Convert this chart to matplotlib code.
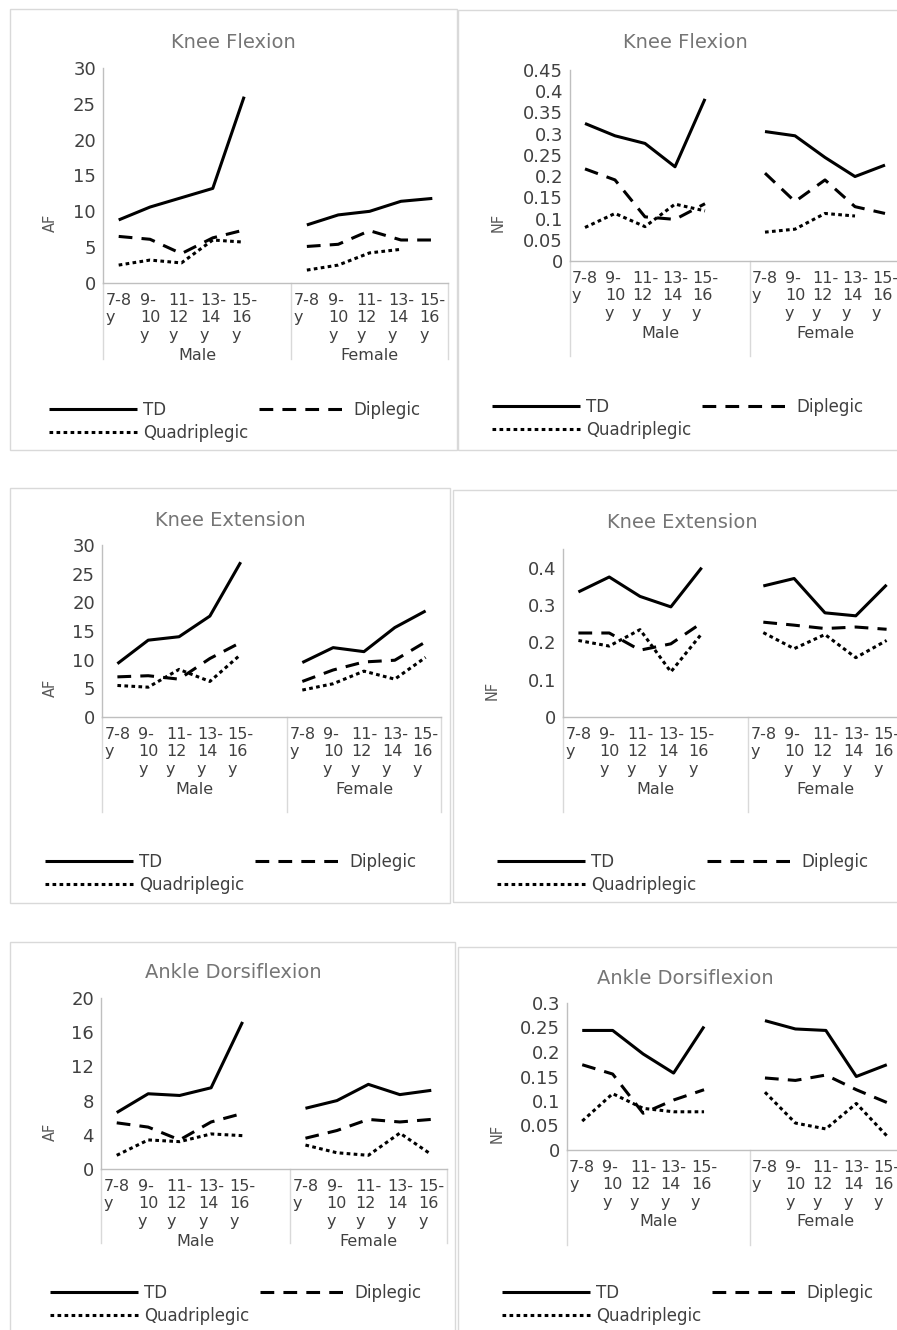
import numpy as np
import matplotlib.pyplot as plt
from matplotlib.patches import Rectangle

nan = np.nan

# categories
groups = ['Male', 'Female']
ages = ['7-8\ny', '9-\n10\ny', '11-\n12\ny', '13-\n14\ny', '15-\n16\ny']
series = ['TD', 'Diplegic', 'Quadriplegic']

# values: 5 male then 5 female
kf_af_td = [8.8, 10.6, 11.9, 13.2, 26.0, 8.1, 9.5, 10.0, 11.4, 11.8]
kf_af_dip = [6.5, 6.1, 4.1, 6.3, 7.4, 5.1, 5.4, 7.3, 6.0, 6.0]
kf_af_quad = [2.5, 3.2, 2.8, 6.0, 5.7, 1.8, 2.5, 4.2, 4.7, nan]

kf_nf_td = [0.324, 0.295, 0.277, 0.222, 0.382, 0.305, 0.295, 0.244, 0.199, 0.226]
kf_nf_dip = [0.217, 0.191, 0.104, 0.098, 0.135, 0.207, 0.140, 0.191, 0.128, 0.112]
kf_nf_quad = [0.079, 0.112, 0.081, 0.134, 0.118, 0.068, 0.075, 0.112, 0.106, nan]

ke_af_td = [9.3, 13.4, 14.0, 17.6, 27.0, 9.5, 12.1, 11.4, 15.6, 18.5]
ke_af_dip = [7.0, 7.2, 6.6, 10.2, 13.0, 6.2, 8.2, 9.6, 9.9, 13.1]
ke_af_quad = [5.5, 5.2, 8.3, 6.2, 10.9, 4.7, 5.8, 8.0, 6.6, 10.4]

ke_nf_td = [0.335, 0.375, 0.323, 0.295, 0.400, 0.351, 0.371, 0.279, 0.271, 0.354]
ke_nf_dip = [0.225, 0.225, 0.179, 0.196, 0.252, 0.254, 0.246, 0.237, 0.241, 0.235]
ke_nf_quad = [0.205, 0.190, 0.234, 0.121, 0.223, 0.226, 0.183, 0.221, 0.159, 0.205]

ad_af_td = [6.6, 8.8, 8.6, 9.5, 17.2, 7.1, 8.0, 9.9, 8.7, 9.2]
ad_af_dip = [5.4, 4.9, 3.4, 5.5, 6.5, 3.6, 4.5, 5.8, 5.5, 5.8]
ad_af_quad = [1.6, 3.4, 3.2, 4.1, 3.9, 2.8, 1.9, 1.6, 4.2, 1.7]

ad_nf_td = [0.244, 0.244, 0.196, 0.157, 0.252, 0.264, 0.247, 0.244, 0.150, 0.174]
ad_nf_dip = [0.174, 0.155, 0.075, 0.102, 0.123, 0.147, 0.142, 0.153, 0.123, 0.097]
ad_nf_quad = [0.059, 0.115, 0.085, 0.078, 0.078, 0.118, 0.055, 0.043, 0.095, 0.029]

W, H = 897, 1330
fig = plt.figure(figsize=(W / 100, H / 100), dpi=100)

GRID = '#bfbfbf'
TXT = '#404040'
styles = [dict(linestyle='-'),
          dict(linestyle=(0, (4.5, 3.0))),
          dict(linestyle=(0, (1.2, 1.1)))]


def panel(frame, plot, title, title_xy, ylab, ylab_xy, vals, ymax, ystep, yticks_max,
          sep_px, leg_xy):
    # frame of the chart
    fx0, fy0, fx1, fy1 = frame
    fig.add_artist(Rectangle((fx0 / W, 1 - fy1 / H), (fx1 - fx0) / W, (fy1 - fy0) / H,
                             transform=fig.transFigure, fill=False, ec='#d9d9d9', lw=1))
    x0, y0, x1, y1 = plot
    ah = y1 - y0
    ax = fig.add_axes([x0 / W, 1 - y1 / H, (x1 - x0) / W, ah / H])
    ax.set_xlim(-0.5, 10.5)
    ax.set_ylim(0, ymax)
    mx = np.arange(5)
    fxp = np.arange(6, 11)
    handles = []
    for v, st in zip(vals, styles):
        v = np.array(v, dtype=float)
        h, = ax.plot(mx, v[:5], color='black', lw=2.2, solid_capstyle='butt',
                     dash_capstyle='butt', **st)
        ax.plot(fxp, v[5:], color='black', lw=2.2, solid_capstyle='butt',
                dash_capstyle='butt', **st)
        handles.append(h)
    for s in ['top', 'right']:
        ax.spines[s].set_visible(False)
    for s in ['left', 'bottom']:
        ax.spines[s].set_color(GRID)
        ax.spines[s].set_linewidth(1)
    yt = np.arange(0, yticks_max + ystep / 2, ystep)
    ax.set_yticks(yt, ['%g' % round(t, 2) for t in yt])
    ax.tick_params(axis='y', length=0, pad=5, labelsize=13, labelcolor=TXT)
    ax.set_xticks(list(mx) + list(fxp), ages * 2)
    ax.tick_params(axis='x', length=0, pad=7, labelsize=11.5, labelcolor=TXT)
    for t in ax.get_xticklabels():
        t.set_multialignment('left')
        t.set_linespacing(1.2)
    tr = ax.get_xaxis_transform()
    for xs in [-0.5, 5.5, 10.5]:
        ax.plot([xs, xs], [0, -sep_px / ah], transform=tr, clip_on=False,
                color='#d9d9d9', lw=1)
    ax.text(2.5, -72 / ah, groups[0], transform=tr, ha='center', va='center',
            fontsize=11.5, color=TXT)
    ax.text(8.0, -72 / ah, groups[1], transform=tr, ha='center', va='center',
            fontsize=11.5, color=TXT)
    fig.text(title_xy[0] / W, 1 - title_xy[1] / H, title, ha='center', va='center',
             fontsize=14, color='#757575')
    fig.text(ylab_xy[0] / W, 1 - ylab_xy[1] / H, ylab, ha='center', va='center',
             rotation=90, fontsize=10.5, color='#595959')
    ax.legend([handles[0], handles[2], handles[1]], [series[0], series[2], series[1]],
              ncol=2, loc='upper left',
              bbox_to_anchor=(leg_xy[0] / W, 1 - (leg_xy[1] - 9) / H),
              bbox_transform=fig.transFigure, frameon=False, borderpad=0,
              borderaxespad=0, handlelength=5.3, handletextpad=0.36,
              columnspacing=0.6, labelspacing=0.3, fontsize=12, labelcolor=TXT)
    return ax


panel((10, 9, 457, 450), (103, 68, 448, 283), 'Knee Flexion', (233, 43), 'AF', (50, 223),
      [kf_af_td, kf_af_dip, kf_af_quad], 30, 5, 30, 76, (49, 410))
panel((458, 10, 905, 450), (570, 70, 900, 261), 'Knee Flexion', (685, 43), 'NF', (498, 222),
      [kf_nf_td, kf_nf_dip, kf_nf_quad], 0.45, 0.05, 0.45, 95, (492, 407))
panel((10, 488, 450, 903), (102, 545, 441, 717), 'Knee Extension', (230, 520), 'AF', (50, 688),
      [ke_af_td, ke_af_dip, ke_af_quad], 30, 5, 30, 95, (45, 862))
panel((453, 490, 905, 902), (563, 549, 902, 717), 'Knee Extension', (682, 523), 'NF', (492, 690),
      [ke_nf_td, ke_nf_dip, ke_nf_quad], 0.45, 0.1, 0.4, 95, (497, 862))
panel((10, 942, 455, 1345), (101, 998, 447, 1169), 'Ankle Dorsiflexion', (233, 973), 'AF', (50, 1132),
      [ad_af_td, ad_af_dip, ad_af_quad], 20, 4, 20, 74, (50, 1293))
panel((458, 947, 905, 1345), (567, 1003, 902, 1150), 'Ankle Dorsiflexion', (685, 979), 'NF', (497, 1133),
      [ad_nf_td, ad_nf_dip, ad_nf_quad], 0.3, 0.05, 0.3, 95, (502, 1293))

fig.savefig('out.png', dpi=100)
